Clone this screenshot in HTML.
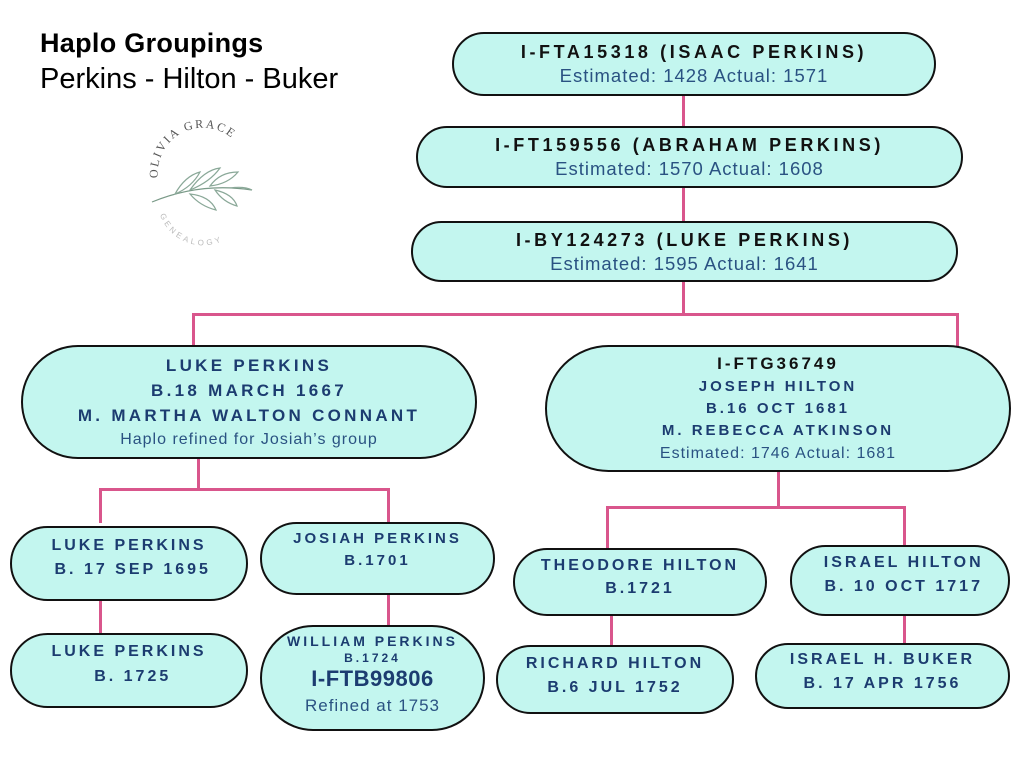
<!DOCTYPE html>
<html><head><meta charset="utf-8"><style>
body{margin:0;width:1024px;height:768px;background:#fff;position:relative;overflow:hidden;font-family:"Liberation Sans",sans-serif}
.b{position:absolute;box-sizing:border-box;border:2px solid #111;background:#c3f6ef;border-radius:999px;display:flex;flex-direction:column;align-items:center;justify-content:center;text-align:center;color:#1c3c70}
.h{font-weight:bold;letter-spacing:3px;line-height:1.45}
.n{letter-spacing:1px;color:#2a5282}
.k{color:#111}
.l{position:absolute;background:#d9568c}
</style></head><body>
<div style="position:absolute;left:40px;top:28px;font-size:27px;font-weight:bold;color:#000;letter-spacing:0.3px">Haplo Groupings</div>
<div style="position:absolute;left:40px;top:63px;font-size:29px;color:#000">Perkins - Hilton - Buker</div>
<svg style="position:absolute;left:130px;top:120px" width="140" height="130">
<path id="arc1" d="M28,58 A44,44 0 0 1 118,48" fill="none"/>
<text font-family="Liberation Serif" font-size="12" fill="#555" letter-spacing="2"><textPath href="#arc1">OLIVIA GRACE</textPath></text>
<path id="arc2" d="M30,95 A46,46 0 0 0 118,90" fill="none"/>
<text font-family="Liberation Sans" font-size="8" fill="#bbb" letter-spacing="3"><textPath href="#arc2">GENEALOGY</textPath></text>
<path d="M22,82 Q70,62 122,70" stroke="#7a9a88" stroke-width="1.2" fill="none"/>
<g fill="none" stroke="#8aa898" stroke-width="1.2">
<path d="M45,74 q10,-18 25,-22 q-8,15 -25,22z"/><path d="M60,70 q14,-20 30,-22 q-10,14 -30,22z"/>
<path d="M80,66 q10,-14 28,-14 q-10,12 -28,14z"/><path d="M60,74 q20,2 26,16 q-16,-4 -26,-16z"/>
<path d="M85,70 q18,4 22,16 q-14,-4 -22,-16z"/><path d="M100,68 q14,-2 22,2"/>
</g></svg>

<div class="l" style="left:682px;top:95px;width:3px;height:32px"></div>
<div class="l" style="left:682px;top:187px;width:3px;height:35px"></div>
<div class="l" style="left:682px;top:281px;width:3px;height:34px"></div>
<div class="l" style="left:192px;top:313px;width:767px;height:3px"></div>
<div class="l" style="left:192px;top:313px;width:3px;height:34px"></div>
<div class="l" style="left:956px;top:313px;width:3px;height:34px"></div>
<div class="l" style="left:197px;top:458px;width:3px;height:32px"></div>
<div class="l" style="left:99px;top:488px;width:291px;height:3px"></div>
<div class="l" style="left:99px;top:488px;width:3px;height:35px"></div>
<div class="l" style="left:387px;top:488px;width:3px;height:35px"></div>
<div class="l" style="left:99px;top:600px;width:3px;height:34px"></div>
<div class="l" style="left:387px;top:594px;width:3px;height:32px"></div>
<div class="l" style="left:777px;top:471px;width:3px;height:37px"></div>
<div class="l" style="left:606px;top:506px;width:300px;height:3px"></div>
<div class="l" style="left:606px;top:506px;width:3px;height:42px"></div>
<div class="l" style="left:903px;top:506px;width:3px;height:40px"></div>
<div class="l" style="left:610px;top:615px;width:3px;height:31px"></div>
<div class="l" style="left:903px;top:613px;width:3px;height:31px"></div>

<div class="b" style="left:452px;top:32px;width:484px;height:64px"><div class="h k" style="font-size:18px;letter-spacing:3.6px;line-height:24px">I-FTA15318 (ISAAC PERKINS)</div><div class="n" style="font-size:18.5px;line-height:24px">Estimated: 1428 Actual: 1571</div></div>
<div class="b" style="left:416px;top:126px;width:547px;height:62px"><div class="h k" style="font-size:18px;letter-spacing:3.6px;line-height:24px">I-FT159556 (ABRAHAM PERKINS)</div><div class="n" style="font-size:18.5px;line-height:24px">Estimated: 1570 Actual: 1608</div></div>
<div class="b" style="left:411px;top:221px;width:547px;height:61px"><div class="h k" style="font-size:18px;letter-spacing:3.6px;line-height:24px">I-BY124273 (LUKE PERKINS)</div><div class="n" style="font-size:18.5px;line-height:24px">Estimated: 1595 Actual: 1641</div></div>

<div class="b" style="left:21px;top:345px;width:456px;height:114px"><div class="h" style="font-size:17px;line-height:25px;letter-spacing:3.3px">LUKE PERKINS<br>B.18 MARCH 1667<br>M. MARTHA WALTON CONNANT</div><div class="n" style="font-size:16px;line-height:24px">Haplo refined for Josiah’s group</div></div>
<div class="b" style="left:545px;top:345px;width:466px;height:127px"><div class="h k" style="font-size:17px;line-height:24px">I-FTG36749</div><div class="h" style="font-size:15px;line-height:22px">JOSEPH HILTON<br>B.16 OCT 1681<br>M. REBECCA ATKINSON</div><div class="n" style="font-size:16px;line-height:23px">Estimated: 1746 Actual: 1681</div></div>

<div class="b" style="left:10px;top:526px;width:238px;height:75px;justify-content:flex-start;padding-top:6px"><div class="h" style="font-size:16px;line-height:24px">LUKE PERKINS<br>&nbsp;B. 17 SEP 1695</div></div>
<div class="b" style="left:260px;top:522px;width:235px;height:73px;justify-content:flex-start;padding-top:4px"><div class="h" style="font-size:15px;line-height:22px">JOSIAH PERKINS<br>B.1701</div></div>
<div class="b" style="left:10px;top:633px;width:238px;height:75px;justify-content:flex-start;padding-top:4px"><div class="h" style="font-size:16px;line-height:25px">LUKE PERKINS<br>&nbsp;B. 1725</div></div>
<div class="b" style="left:260px;top:625px;width:225px;height:106px;justify-content:flex-start;padding-top:4px"><div class="h" style="font-size:14px;line-height:20px">WILLIAM PERKINS</div><div class="h" style="font-size:12px;line-height:14px">B.1724</div><div style="font-size:22px;font-weight:bold;line-height:28px;letter-spacing:0.5px">I-FTB99806</div><div class="n" style="font-size:17px;line-height:26px">Refined at 1753</div></div>

<div class="b" style="left:513px;top:548px;width:254px;height:68px;justify-content:flex-start;padding-top:4px"><div class="h" style="font-size:16px;line-height:23px">THEODORE HILTON<br>B.1721</div></div>
<div class="b" style="left:790px;top:545px;width:220px;height:71px;justify-content:flex-start;padding-top:4px"><div class="h" style="font-size:16px;line-height:24px">&nbsp;ISRAEL HILTON<br>&nbsp;B. 10 OCT 1717</div></div>
<div class="b" style="left:496px;top:645px;width:238px;height:69px;justify-content:flex-start;padding-top:5px"><div class="h" style="font-size:16px;line-height:24px">RICHARD HILTON<br>B.6 JUL 1752</div></div>
<div class="b" style="left:755px;top:643px;width:255px;height:66px;justify-content:flex-start;padding-top:3px"><div class="h" style="font-size:16px;line-height:24px">ISRAEL H. BUKER<br>B. 17 APR 1756</div></div>
</body></html>
